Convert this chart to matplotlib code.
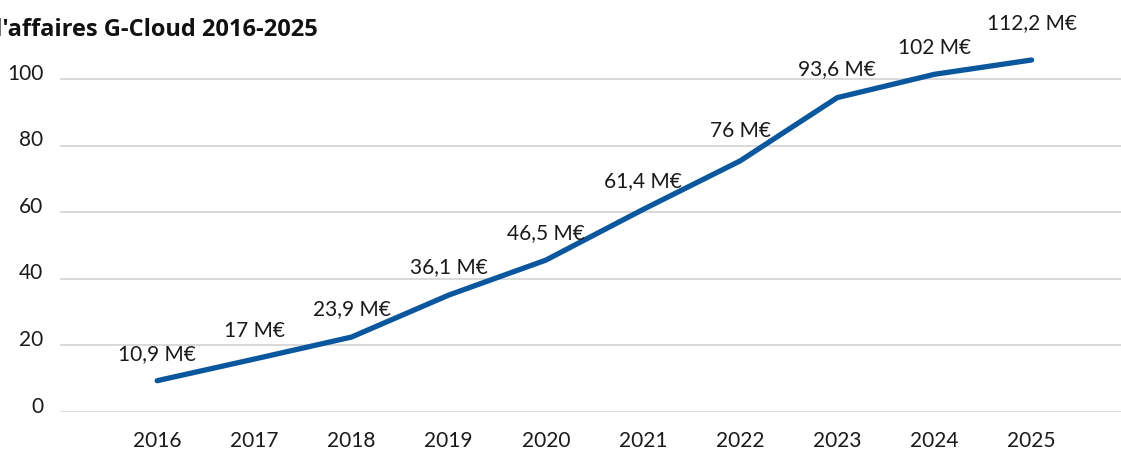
import matplotlib.pyplot as plt
from matplotlib.transforms import ScaledTranslation

plt.rcParams['font.family'] = ['Lato', 'DejaVu Sans']

# data
years = [2016, 2017, 2018, 2019, 2020, 2021, 2022, 2023, 2024, 2025]
values = [9.4, 15.9, 22.5, 35.1, 45.6, 60.8, 75.4, 94.4, 101.4, 105.7]
labels = ['10,9 M€', '17 M€', '23,9 M€', '36,1 M€', '46,5 M€', '61,4 M€',
          '76 M€', '93,6 M€', '102 M€', '112,2 M€']
yticks = [0, 20, 40, 60, 80, 100]

W, H = 1121, 452
fig = plt.figure(figsize=(W / 100, H / 100), dpi=100)
ax = fig.add_axes([60 / W, 1 - 413 / H, 1 - 60 / W, 373 / H])

ax.plot(years, values, color='#0b579e', lw=3.8, solid_capstyle='round',
        solid_joinstyle='round', zorder=3)

offsets = [20, 21, 21, 21, 20, 21, 22, 21, 20, 27]
for x, y, lab, off in zip(years, values, labels, offsets):
    ax.annotate(lab, (x, y), xytext=(0, off), textcoords='offset points',
                ha='center', va='center', fontsize=15, color='#1a1a1a',
                annotation_clip=False)

ax.set_xlim(2015.0, 2025.92)
ax.set_ylim(0, 112)
ax.set_xticks(years)
ax.set_yticks(yticks)
ax.tick_params(axis='both', length=0, labelsize=15, colors='#1a1a1a')
ax.tick_params(axis='x', pad=13)
ax.tick_params(axis='y', pad=12)
for t in ax.get_yticklabels():
    t.set_transform(t.get_transform() + ScaledTranslation(0, 6 / 72, fig.dpi_scale_trans))

ax.grid(axis='y', color='#d0d0d0', lw=1.1)
ax.set_axisbelow(True)
for s in ax.spines.values():
    s.set_visible(False)

# the title is cut at the left edge, as in the original
fig.text(318 / W, 1 - 30 / H, "Chiffre d'affaires G-Cloud 2016-2025", ha='right',
         va='center', fontsize=17, fontweight='bold', color='#111111',
         family=['Open Sans', 'DejaVu Sans'])

fig.savefig('out.png', dpi=100)
